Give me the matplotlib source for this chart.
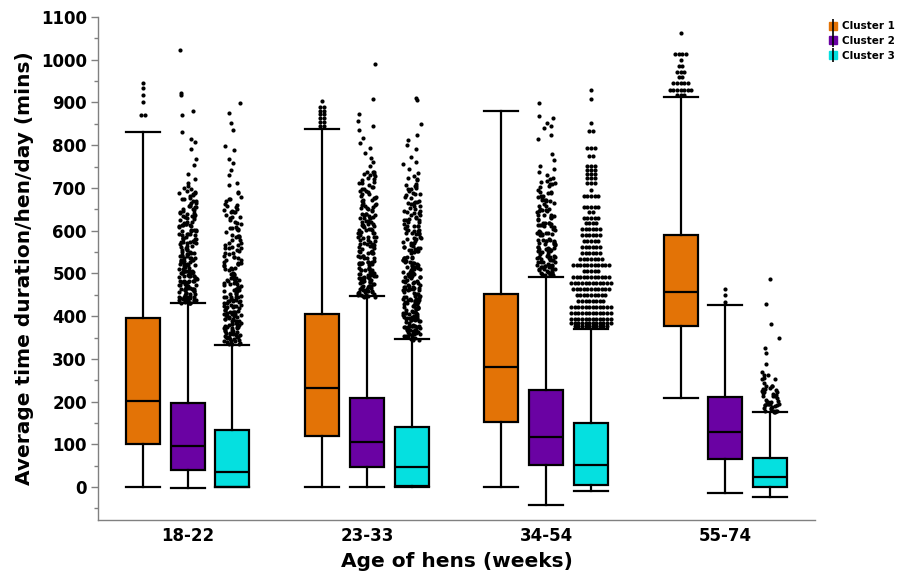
import numpy as np
import matplotlib.pyplot as plt
from matplotlib.lines import Line2D

# age groups and clusters
ages = ['18-22', '23-33', '34-54', '55-74']
clusters = ['Cluster 1', 'Cluster 2', 'Cluster 3']
colors = ['#E37306', '#6A02A3', '#05E0E0']

# box stats (mins), one value per age group
c1_low = [0, 0, 0, 209]
c1_q1 = [101, 119, 152, 377]
c1_med = [202, 232, 281, 457]
c1_q3 = [395, 406, 452, 590]
c1_high = [831, 838, 880, 912]

c2_low = [-3, 0, -42, -13]
c2_q1 = [40, 47, 51, 66]
c2_med = [97, 105, 117, 129]
c2_q3 = [197, 208, 227, 211]
c2_high = [430, 447, 492, 425]

c3_low = [0, 0, -9, -23]
c3_q1 = [1, 2, 5, 1]
c3_med = [36, 47, 51, 24]
c3_q3 = [133, 140, 150, 69]
c3_high = [332, 346, 369, 176]

# outliers as (value, number of dots at that value / in that 10-min band)
fl_c1_1822 = [(946, 1), (933, 1), (918, 1), (901, 1), (870, 2)]
fl_c2_1822 = [(1023, 1), (923, 1), (918, 1), (881, 1), (870, 1), (831, 1), (815, 1),
              (808, 1), (791, 1), (768, 1), (754, 1), (733, 1), (720, 1), (711, 1),
              (700, 3), (690, 4), (680, 4), (670, 5), (660, 5), (650, 5), (640, 6),
              (630, 6), (620, 5), (610, 6), (600, 6), (590, 7), (580, 7), (570, 7),
              (560, 6), (550, 7), (540, 7), (530, 8), (520, 8), (510, 8), (500, 9),
              (490, 9), (480, 9), (470, 9), (460, 10), (450, 10), (440, 10), (435, 8)]
fl_c3_1822 = [(898, 1), (875, 1), (851, 1), (835, 1), (798, 1), (789, 1), (768, 1),
              (759, 1), (742, 1), (730, 1), (712, 1), (707, 1), (691, 1), (688, 1),
              (679, 1), (670, 3), (660, 3), (650, 4), (640, 4), (630, 3), (620, 4),
              (610, 3), (600, 4), (590, 4), (580, 3), (570, 4), (560, 4), (550, 4),
              (540, 5), (530, 4), (520, 5), (510, 5), (500, 5), (490, 6), (480, 6),
              (470, 6), (460, 6), (450, 7), (440, 7), (430, 7), (420, 8), (410, 8),
              (400, 8), (390, 8), (380, 9), (370, 9), (360, 9), (350, 10), (340, 9)]

fl_c1_2333 = [(903, 1), (889, 2), (881, 2), (872, 2), (864, 2), (855, 2), (846, 2)]
fl_c2_2333 = [(991, 1), (907, 1), (874, 1), (857, 1), (846, 1), (835, 1), (816, 1),
              (804, 1), (793, 1), (781, 1), (770, 1), (760, 1), (752, 1),
              (740, 3), (730, 4), (720, 3), (710, 4), (700, 4), (690, 4), (680, 5),
              (670, 4), (660, 5), (650, 5), (640, 5), (630, 6), (620, 5), (610, 6),
              (600, 6), (590, 6), (580, 6), (570, 7), (560, 6), (550, 7), (540, 7),
              (530, 7), (520, 8), (510, 8), (500, 8), (490, 9), (480, 9), (470, 9),
              (460, 10), (450, 9)]
fl_c3_2333 = [(910, 1), (906, 1), (849, 1), (823, 1), (812, 1), (800, 1), (790, 1),
              (773, 1), (760, 1), (755, 1), (745, 1), (735, 1), (728, 1),
              (720, 3), (710, 3), (700, 4), (690, 4), (680, 3), (670, 4), (660, 4),
              (650, 4), (640, 5), (630, 4), (620, 5), (610, 5), (600, 5), (590, 5),
              (580, 6), (570, 5), (560, 6), (550, 6), (540, 6), (530, 6), (520, 7),
              (510, 7), (500, 7), (490, 7), (480, 8), (470, 8), (460, 8), (450, 8),
              (440, 9), (430, 9), (420, 9), (410, 9), (400, 10), (390, 10), (380, 10),
              (370, 10), (360, 10), (350, 9)]

fl_c1_3454 = []
fl_c2_3454 = [(898, 1), (868, 1), (863, 1), (851, 1), (845, 1), (840, 1), (824, 1),
              (814, 1), (779, 1), (765, 1), (751, 1), (745, 1), (738, 1), (730, 1),
              (720, 3), (710, 4), (700, 3), (690, 4), (680, 4), (670, 5), (660, 4),
              (650, 5), (640, 5), (630, 5), (620, 6), (610, 6), (600, 6), (590, 6),
              (580, 7), (570, 7), (560, 7), (550, 8), (540, 8), (530, 8), (520, 9),
              (510, 9), (500, 10)]
fl_c3_3454 = [(929, 1), (908, 1), (851, 1), (833, 2), (794, 3), (775, 2), (751, 3),
              (742, 3), (733, 3), (723, 3), (712, 3), (695, 1), (681, 5), (656, 5),
              (644, 2), (630, 5), (617, 4), (603, 6), (589, 6), (576, 5), (562, 6),
              (548, 6), (534, 7), (520, 11), (506, 5), (492, 11), (478, 12), (464, 11),
              (449, 9), (435, 8), (421, 12), (407, 12), (394, 12), (384, 12), (376, 10)]

fl_c1_5574 = [(1063, 1), (1014, 4), (1000, 1), (986, 2), (972, 3), (959, 2), (945, 5),
              (930, 7), (917, 3)]
fl_c2_5574 = [(464, 1), (450, 1), (432, 1)]
fl_c3_5574 = [(488, 1), (428, 1), (381, 1), (349, 1), (325, 1), (313, 1), (287, 1),
              (270, 1), (260, 2), (250, 3), (240, 4), (230, 4), (220, 5), (210, 5),
              (200, 6), (190, 8), (180, 9)]

fliers = [[fl_c1_1822, fl_c1_2333, fl_c1_3454, fl_c1_5574],
          [fl_c2_1822, fl_c2_2333, fl_c2_3454, fl_c2_5574],
          [fl_c3_1822, fl_c3_2333, fl_c3_3454, fl_c3_5574]]
# which outlier groups are drawn as neat rows instead of a jittered cloud
row_style = [[True, True, True, True],
             [False, False, False, True],
             [False, False, True, False]]

stats = [(c1_low, c1_q1, c1_med, c1_q3, c1_high),
         (c2_low, c2_q1, c2_med, c2_q3, c2_high),
         (c3_low, c3_q1, c3_med, c3_q3, c3_high)]


def spread(k, seed):
    # fixed scatter offset in [-0.5, 0.5) for dot number k (display only)
    v = np.sin(k * 12.9898 + seed * 78.233) * 43758.5453
    return v - np.floor(v) - 0.5


fig = plt.figure(figsize=(9.01, 5.77), dpi=100)
ax = fig.add_axes([98 / 901, 1 - 520 / 577, 717 / 901, 503 / 577])

offsets = [-0.25, 0, 0.25]
box_w = 0.19
row_sp = 0.02
jit_w = 0.1

for c in range(3):
    low, q1, med, q3, high = stats[c]
    pos = [g + 1 + offsets[c] for g in range(4)]
    bstats = []
    for g in range(4):
        bstats.append({'whislo': low[g], 'q1': q1[g], 'med': med[g],
                       'q3': q3[g], 'whishi': high[g], 'fliers': []})
    ax.bxp(bstats, positions=pos, widths=box_w, capwidths=box_w,
           showfliers=False, patch_artist=True,
           boxprops=dict(facecolor=colors[c], edgecolor='black', linewidth=1.6),
           medianprops=dict(color='black', linewidth=1.6),
           whiskerprops=dict(color='black', linewidth=1.6),
           capprops=dict(color='black', linewidth=1.6))

    # outlier dots
    for g in range(4):
        xs, ys = [], []
        k = 0
        for val, n in fliers[c][g]:
            for i in range(n):
                if row_style[c][g]:
                    dx, dy = (i - (n - 1) / 2) * row_sp, 0
                else:
                    dx = spread(k, 1 + c * 4 + g) * jit_w
                    dy = 0 if n == 1 else spread(k, 50 + c * 4 + g) * 10
                xs.append(pos[g] + dx)
                ys.append(val + dy)
                k += 1
        ax.plot(xs, ys, 'o', color='black', ms=3.0, mew=0, zorder=3)

ax.set_xlim(0.5, 4.5)
ax.set_ylim(-77, 1100)
ax.set_yticks(np.arange(0, 1101, 100))
ax.set_yticks(np.arange(-50, 1100, 100), minor=True)
ax.set_xticks([1, 2, 3, 4])
ax.set_xticklabels(ages)

for s in ['top', 'right']:
    ax.spines[s].set_visible(False)
for s in ['left', 'bottom']:
    ax.spines[s].set_color('#808080')
    ax.spines[s].set_linewidth(1.0)

ax.tick_params(axis='y', which='major', length=5, width=1, color='#808080',
               labelsize=12, pad=3)
ax.tick_params(axis='y', which='minor', length=3, width=1, color='#808080')
ax.tick_params(axis='x', length=0, labelsize=12, pad=5)
for lab in ax.get_yticklabels() + ax.get_xticklabels():
    lab.set_fontweight('bold')

ax.set_xlabel('Age of hens (weeks)', fontsize=14.5, fontweight='bold', labelpad=5)
ax.set_ylabel('Average time duration/hen/day (mins)', fontsize=14.5,
              fontweight='bold', labelpad=5)

handles = []
for c in range(3):
    sq = Line2D([], [], marker='s', color=colors[c], ms=6, linestyle='None')
    bar = Line2D([], [], marker='|', color='black', ms=10, mew=1.2, linestyle='None')
    handles.append((sq, bar))
fig.legend(handles, clusters, loc='upper left', bbox_to_anchor=(818 / 901, 1 - 12 / 577),
           frameon=False, handlelength=1.0, handletextpad=0.4, labelspacing=0.45,
           prop=dict(size=7.5, weight='bold'))

fig.savefig('out.png', dpi=100)
